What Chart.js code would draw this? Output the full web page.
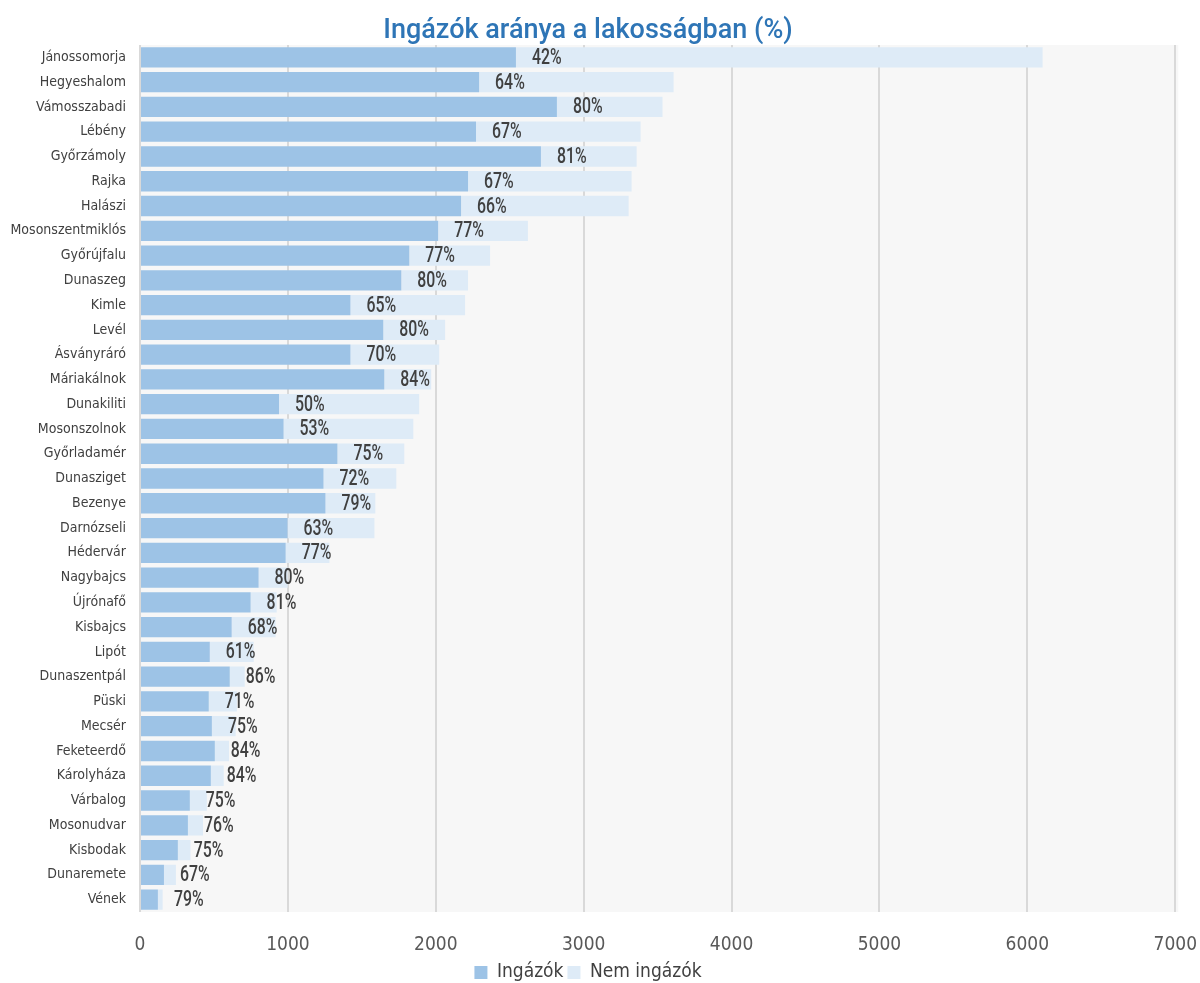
<!DOCTYPE html>
<html>
<head>
<meta charset="utf-8">
<script src="https://cdn.jsdelivr.net/npm/chart.js@4"></script>
<style>
html,body{margin:0;padding:0;background:#fff;}
#wrap{width:1200px;height:983px;position:relative;}
</style>
</head>
<body>
<div id="wrap"><canvas id="c" width="1200" height="983"></canvas></div>
<script>
const categories = ["Jánossomorja","Hegyeshalom","Vámosszabadi","Lébény","Győrzámoly","Rajka","Halászi","Mosonszentmiklós","Győrújfalu","Dunaszeg","Kimle","Levél","Ásványráró","Máriakálnok","Dunakiliti","Mosonszolnok","Győrladamér","Dunasziget","Bezenye","Darnózseli","Hédervár","Nagybajcs","Újrónafő","Kisbajcs","Lipót","Dunaszentpál","Püski","Mecsér","Feketeerdő","Károlyháza","Várbalog","Mosonudvar","Kisbodak","Dunaremete","Vének"];
const commuters = [2542,2293,2819,2272,2711,2218,2171,2016,1821,1767,1423,1645,1423,1652,940,971,1335,1241,1254,998,985,802,748,620,472,607,465,486,506,479,337,324,256,162,121];
const nonCommuters = [3561,1315,714,1113,647,1106,1133,607,546,451,775,418,600,317,948,877,452,492,337,587,296,196,176,297,297,101,190,161,96,87,115,102,85,81,32];
const pctLabels = ["42%","64%","80%","67%","81%","67%","66%","77%","77%","80%","65%","80%","70%","84%","50%","53%","75%","72%","79%","63%","77%","80%","81%","68%","61%","86%","71%","75%","84%","84%","75%","76%","75%","67%","79%"];
const xTicks = [0,1000,2000,3000,4000,5000,6000,7000];

const NARROW = "'Liberation Sans Narrow','DejaVu Sans Condensed','Roboto Condensed',sans-serif";

const bgPlugin = {
  id:'bg',
  beforeDraw(chart){
    const {ctx, chartArea:a} = chart;
    ctx.save();
    ctx.fillStyle = '#f7f7f7';
    ctx.fillRect(a.left, a.top, a.right - a.left + 3, a.bottom - a.top);
    ctx.restore();
  }
};
const labelPlugin = {
  id:'pctlab',
  afterDatasetsDraw(chart){
    const {ctx} = chart;
    const meta = chart.getDatasetMeta(0);
    const sx = 0.72;
    ctx.save();
    ctx.font = "500 22px Roboto, sans-serif";
    ctx.fillStyle = '#404040';
    ctx.textAlign = 'left';
    ctx.textBaseline = 'middle';
    meta.data.forEach((el, i) => {
      ctx.save();
      ctx.translate(el.x + 16, el.y + 1);
      ctx.scale(sx, 1);
      ctx.fillText(pctLabels[i], 0, 0);
      ctx.restore();
    });
    ctx.restore();
  }
};

new Chart(document.getElementById('c'), {
  type:'bar',
  data:{
    labels: categories,
    datasets:[
      {label:'Ingázók', data: commuters, backgroundColor:'#9dc3e6', borderWidth:0},
      {label:'Nem ingázók', data: nonCommuters, backgroundColor:'#deebf7', borderWidth:0}
    ]
  },
  options:{
    indexAxis:'y',
    responsive:false,
    animation:false,
    devicePixelRatio:1,
    categoryPercentage:0.82,
    barPercentage:1,
    layout:{padding:{left:0,right:24,top:0,bottom:0}},
    plugins:{
      title:{display:true, text:'Ingázók aránya a lakosságban (%)', color:'#2e75b6',
        font:{family:"Roboto,'Open Sans',sans-serif", size:27, weight:'500', lineHeight:1.0}, padding:{top:18,bottom:0}},
      legend:{position:'bottom', maxHeight:24,
        labels:{color:'#404040', boxWidth:13, boxHeight:13, padding:4,
          font:{family:NARROW, size:19}}},
      tooltip:{enabled:false}
    },
    scales:{
      x:{stacked:true, min:0, max:7000,
        afterBuildTicks(s){ s.ticks = xTicks.map(v=>({value:v})); },
        afterFit(s){ s.height = 47; },
        grid:{color:'#d9d9d9', lineWidth:2, drawTicks:true, tickLength:19, tickColor:'rgba(0,0,0,0)'},
        border:{display:false},
        ticks:{color:'#595959', padding:3, font:{family:NARROW, size:19},
          callback:(v)=>String(v)}
      },
      y:{stacked:true,
        afterFit(s){ s.width = 140; },
        grid:{display:false},
        border:{display:false},
        ticks:{color:'#404040', padding:6, autoSkip:false, font:{family:NARROW, size:14}}
      }
    }
  },
  plugins:[bgPlugin, labelPlugin]
});
</script>
</body>
</html>
